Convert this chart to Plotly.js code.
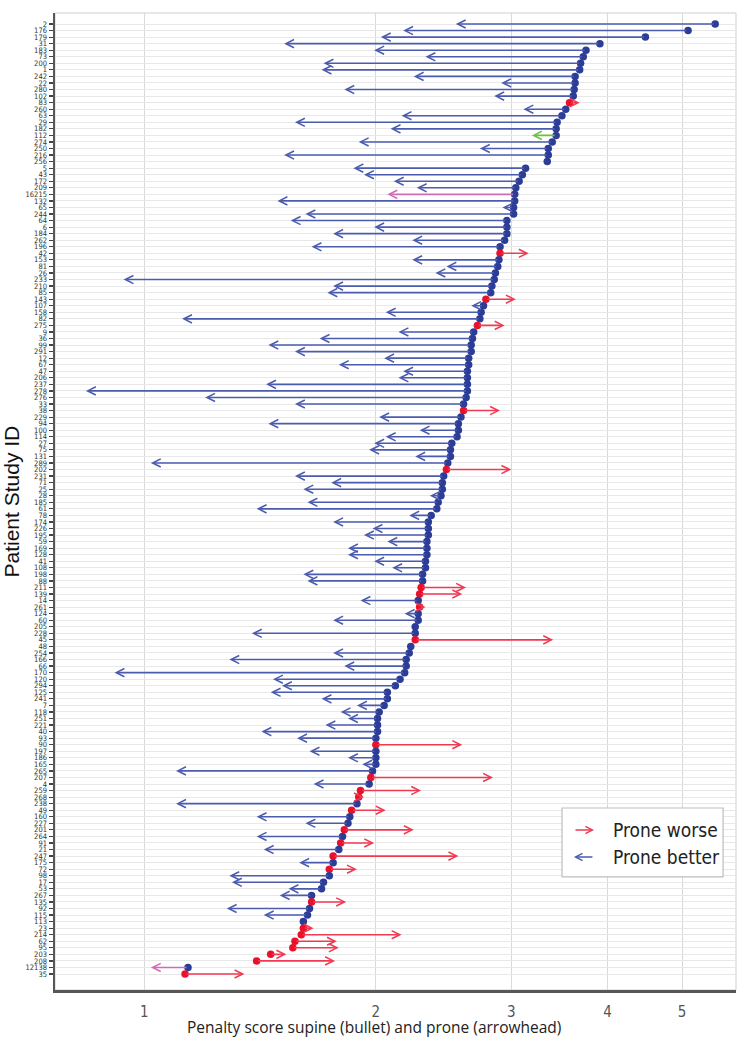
<!DOCTYPE html>
<html>
<head>
<meta charset="utf-8">
<script src="https://cdn.plot.ly/plotly-3.0.1.min.js"></script>
<style>
  html, body { margin: 0; padding: 0; background: #fff; }
  #grafico { width: 748px; height: 1038px; }
</style>
</head>
<body>
<div id="grafico"></div>
<script>
// rows top to bottom
const patientIds = ['2','176','179','31','183','73','200','1','242','22','280','102','83','260','63','29','182','112','274','250','216','256','5','43','172','209','16215','132','65','244','64','6','184','262','196','42','153','81','26','233','210','85','143','107','158','82','275','9','36','99','291','12','67','47','206','237','278','276','33','38','229','94','100','114','27','75','131','289','202','231','71','25','28','185','61','78','174','226','195','59','169','128','41','108','198','88','211','139','14','261','124','60','205','228','45','48','254','166','66','170','120','294','125','241','7','118','251','221','40','93','90','197','186','165','265','207','4','259','268','238','49','160','227','201','264','91','21','247','175','72','98','17','53','267','135','92','115','113','23','214','62','95','203','208','12138','35'];

// supine penalty score (bullet)
const supineScores = [5.52,5.09,4.48,3.91,3.75,3.72,3.69,3.68,3.63,3.63,3.62,3.61,3.57,3.53,3.49,3.44,3.43,3.43,3.39,3.35,3.35,3.34,3.13,3.10,3.07,3.04,3.03,3.03,3.02,3.02,2.96,2.96,2.96,2.94,2.90,2.90,2.89,2.88,2.86,2.85,2.83,2.82,2.78,2.76,2.74,2.73,2.71,2.68,2.67,2.66,2.66,2.64,2.64,2.63,2.63,2.63,2.63,2.62,2.60,2.60,2.58,2.56,2.56,2.55,2.51,2.50,2.50,2.48,2.47,2.45,2.44,2.44,2.43,2.41,2.40,2.36,2.34,2.34,2.34,2.33,2.33,2.33,2.32,2.32,2.30,2.30,2.29,2.28,2.27,2.28,2.27,2.27,2.25,2.25,2.25,2.22,2.21,2.19,2.19,2.18,2.15,2.12,2.07,2.07,2.05,2.02,2.01,2.01,2.01,2.00,2.00,2.00,2.00,2.00,1.98,1.97,1.96,1.91,1.90,1.89,1.86,1.85,1.84,1.82,1.81,1.80,1.79,1.76,1.76,1.74,1.74,1.71,1.70,1.65,1.65,1.64,1.63,1.61,1.61,1.60,1.57,1.56,1.46,1.40,1.14,1.13];

// prone penalty score (arrowhead)
const proneScores = [2.54,2.17,2.03,1.52,1.99,2.32,1.71,1.70,2.24,2.91,1.82,2.85,3.68,3.11,2.16,1.57,2.09,3.19,1.90,2.73,1.52,3.33,1.87,1.93,2.11,2.26,2.07,1.49,2.92,1.62,1.55,1.99,1.76,2.23,1.65,3.16,2.23,2.47,2.39,0.94,1.76,1.73,3.04,2.66,2.06,1.12,2.94,2.14,1.69,1.45,1.57,2.05,1.79,2.17,2.14,1.44,0.84,1.20,1.57,2.90,2.02,1.45,2.28,2.06,1.99,1.96,2.25,1.02,3.00,1.57,1.75,1.61,2.35,1.63,1.40,2.21,1.76,1.98,1.93,2.07,1.84,1.84,1.99,2.10,1.61,1.63,2.62,2.59,1.91,2.32,2.18,1.76,2.25,1.38,3.40,2.21,1.76,1.29,1.82,0.915,1.47,1.51,1.46,1.70,1.89,1.80,1.84,1.72,1.42,1.58,2.59,1.64,1.84,1.92,1.10,2.84,1.66,2.29,1.93,1.10,2.06,1.40,1.62,2.24,1.40,1.99,1.43,2.56,1.59,1.89,1.29,1.30,1.54,1.50,1.83,1.28,1.43,1.61,1.66,2.16,1.78,1.79,1.53,1.77,1.02,1.35];

const xTicks = [1, 2, 3, 4, 5];

// colores
const AZUL_PUNTO = '#2C3D97';
const AZUL_FLECHA = '#4B5BAE';
const ROJO_PUNTO = '#E8112B';
const ROJO_FLECHA = '#EF3A52';
const flechasEspeciales = { '112': '#6DBE45', '16215': '#D06CB4', '12138': '#D06CB4' };

const FUENTE_ESTRECHA = '"Liberation Sans Narrow", "DejaVu Sans Condensed", sans-serif';
const FUENTE = '"Open Sans", "Liberation Sans", Arial, sans-serif';

const filas = patientIds.map((_, i) => i);
const peor = filas.map(i => proneScores[i] > supineScores[i]);

// --- FLECHAS (anotaciones en ejes de datos; eje log -> log10) ---
const flechas = [];
filas.forEach(i => {
    if (proneScores[i] === supineScores[i]) return;
    const color = flechasEspeciales[patientIds[i]] || (peor[i] ? ROJO_FLECHA : AZUL_FLECHA);
    flechas.push({
        xref: 'x', yref: 'y', axref: 'x', ayref: 'y',
        x: Math.log10(proneScores[i]), y: i,
        ax: Math.log10(supineScores[i]), ay: i,
        text: '', showarrow: true,
        arrowhead: 5, arrowsize: 1, arrowwidth: 1.6,
        arrowcolor: color, standoff: 0, startstandoff: 0
    });
});

// --- LEYENDA manual ---
const leyenda = [
    { xref: 'paper', yref: 'paper', x: 0.7915, y: 0.1638, ax: -20, ay: 0, text: '', showarrow: true,
      arrowhead: 5, arrowsize: 1, arrowwidth: 1.4, arrowcolor: ROJO_FLECHA },
    { xref: 'paper', yref: 'paper', x: 0.762, y: 0.1361, ax: 20, ay: 0, text: '', showarrow: true,
      arrowhead: 5, arrowsize: 1, arrowwidth: 1.4, arrowcolor: AZUL_FLECHA },
    { xref: 'paper', yref: 'paper', x: 0.816, y: 0.1638, xanchor: 'left', yanchor: 'middle', showarrow: false,
      text: 'Prone worse', font: { family: FUENTE_ESTRECHA, size: 19, color: '#222' } },
    { xref: 'paper', yref: 'paper', x: 0.816, y: 0.1361, xanchor: 'left', yanchor: 'middle', showarrow: false,
      text: 'Prone better', font: { family: FUENTE_ESTRECHA, size: 19, color: '#222' } }
];

// --- TITULOS ---
const titulos = [
    { xref: 'paper', yref: 'paper', x: 0.468, y: -0.0379, xanchor: 'center', yanchor: 'middle', showarrow: false,
      text: 'Penalty score supine (bullet) and prone (arrowhead)', font: { family: FUENTE, size: 15.5, color: '#222' } },
    { xref: 'paper', yref: 'paper', x: -0.0646, y: 0.5, xanchor: 'center', yanchor: 'middle', showarrow: false,
      textangle: -90, text: 'Patient Study ID', font: { family: '"Liberation Sans", Arial, sans-serif', size: 21, color: '#111' } }
];

const puntos = {
    x: supineScores, y: filas,
    type: 'scatter', mode: 'markers',
    marker: { size: 7.5, color: filas.map(i => peor[i] ? ROJO_PUNTO : AZUL_PUNTO) },
    hoverinfo: 'skip', showlegend: false
};

const layout = {
    width: 748, height: 1038,
    margin: { l: 55, r: 12, t: 13, b: 48 },
    paper_bgcolor: '#ffffff', plot_bgcolor: '#ffffff',
    showlegend: false,
    xaxis: {
        type: 'log', range: [-0.1159, 0.769],
        tickmode: 'array', tickvals: xTicks, ticktext: xTicks.map(String),
        showgrid: true, gridcolor: '#D9D9D9', gridwidth: 1,
        showline: true, linecolor: '#575757', linewidth: 2.5,
        ticks: '', ticklabelstandoff: 6, zeroline: false,
        tickfont: { family: FUENTE_ESTRECHA, size: 15, color: '#555' }
    },
    yaxis: {
        range: [147.44, -1.68],
        tickmode: 'array', tickvals: filas, ticktext: patientIds,
        showgrid: true, gridcolor: '#E8E8E8', gridwidth: 1,
        showline: true, linecolor: '#575757', linewidth: 2.5,
        ticks: 'outside', ticklen: 4, tickwidth: 1.2, tickcolor: '#444', zeroline: false,
        tickfont: { family: FUENTE_ESTRECHA, size: 7.5, color: '#333' }
    },
    shapes: [
        { type: 'rect', xref: 'paper', yref: 'paper', x0: 0, x1: 1, y0: 0, y1: 1,
          line: { color: '#CFCFCF', width: 1 }, layer: 'below' },
        { type: 'rect', xref: 'paper', yref: 'paper', x0: 0.7445, x1: 0.981, y0: 0.1157, y1: 0.1863,
          line: { color: '#BDBDBD', width: 1.2 }, fillcolor: '#ffffff', layer: 'above' }
    ],
    annotations: flechas.concat(leyenda, titulos)
};

Plotly.newPlot('grafico', [puntos], layout, { staticPlot: true });
</script>
</body>
</html>
